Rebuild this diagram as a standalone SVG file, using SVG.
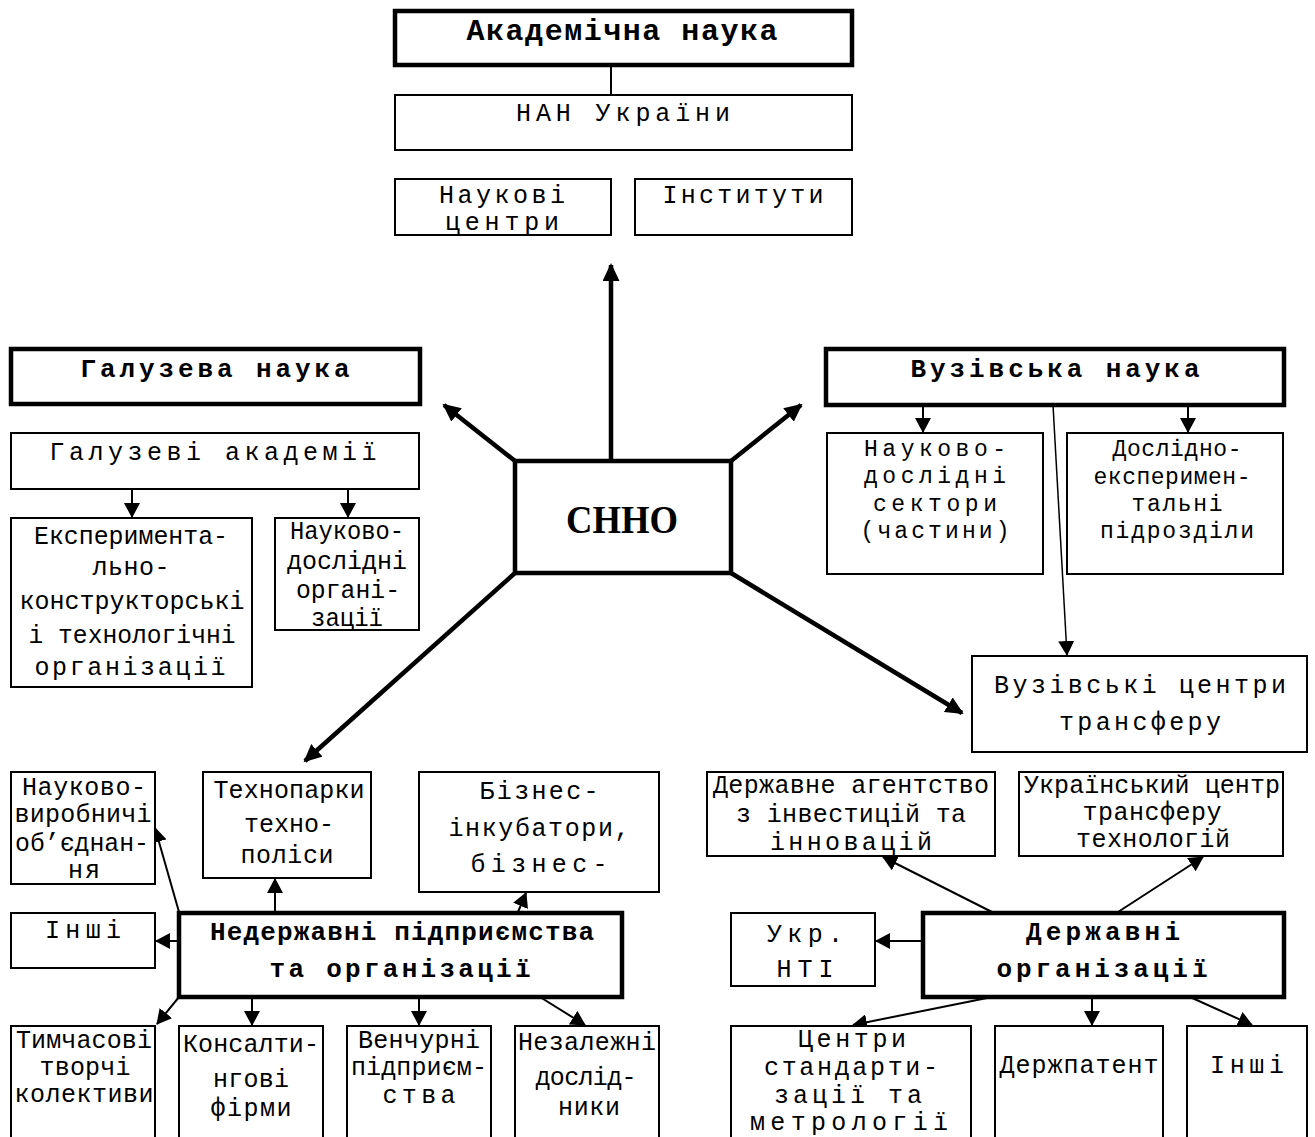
<svg xmlns="http://www.w3.org/2000/svg" width="1315" height="1137" viewBox="0 0 1315 1137">
<style>
rect{fill:#fff;stroke:#000;stroke-width:2}
rect.k{stroke-width:4.5}
text{font-family:"Liberation Mono","DejaVu Sans Mono",monospace;font-size:25px;text-anchor:middle;fill:#000}
text.m{font-size:23px}
text.b{font-weight:bold;font-size:26px}
text.big{font-size:30px}
text.s{font-family:"Liberation Serif","Times New Roman",serif;font-weight:bold;font-size:39px}
line{stroke:#000;stroke-width:2;fill:none}
line.k{stroke-width:4.5}
line.h{stroke-width:1.5}
</style>
<defs>
<marker id="a" markerUnits="userSpaceOnUse" markerWidth="15" markerHeight="16" refX="14" refY="8" orient="auto"><path d="M0,0 L15,8 L0,16 z" fill="#000"/></marker>
<marker id="ak" markerUnits="userSpaceOnUse" markerWidth="18" markerHeight="17" refX="16" refY="8.5" orient="auto"><path d="M0,0 L18,8.5 L0,17 z" fill="#000"/></marker>
</defs>
<rect x="0" y="0" width="1315" height="1137" style="stroke:none"/>

<g id="connectors">
<line x1="611" y1="66" x2="611" y2="94"/>
<line class="k" x1="611" y1="461" x2="611" y2="265" marker-end="url(#ak)"/>
<line class="k" x1="515" y1="461" x2="444" y2="405" marker-end="url(#ak)"/>
<line class="k" x1="731" y1="461" x2="801" y2="405" marker-end="url(#ak)"/>
<line class="k" x1="515" y1="573" x2="305" y2="761" marker-end="url(#ak)"/>
<line class="k" x1="731" y1="573" x2="962" y2="713" marker-end="url(#ak)"/>
<line x1="132" y1="489" x2="132" y2="517" marker-end="url(#a)"/>
<line x1="348" y1="489" x2="348" y2="517" marker-end="url(#a)"/>
<line x1="923" y1="405" x2="923" y2="432" marker-end="url(#a)"/>
<line x1="1188" y1="405" x2="1188" y2="432" marker-end="url(#a)"/>
<line class="h" x1="1053" y1="405" x2="1067" y2="655" marker-end="url(#a)"/>
<line x1="179" y1="912" x2="155" y2="828" marker-end="url(#a)"/>
<line x1="275" y1="912" x2="275" y2="879" marker-end="url(#a)"/>
<line x1="518" y1="912" x2="526" y2="893" marker-end="url(#a)"/>
<line x1="179" y1="941" x2="156" y2="941" marker-end="url(#a)"/>
<line x1="179" y1="997" x2="157" y2="1024" marker-end="url(#a)"/>
<line x1="252" y1="997" x2="252" y2="1025" marker-end="url(#a)"/>
<line x1="419" y1="997" x2="419" y2="1025" marker-end="url(#a)"/>
<line x1="540" y1="997" x2="585" y2="1025" marker-end="url(#a)"/>
<line x1="992" y1="912" x2="883" y2="857" marker-end="url(#a)"/>
<line x1="1118" y1="912" x2="1203" y2="857" marker-end="url(#a)"/>
<line x1="922" y1="941" x2="876" y2="941" marker-end="url(#a)"/>
<line x1="992" y1="997" x2="853" y2="1025" marker-end="url(#a)"/>
<line x1="1092" y1="997" x2="1092" y2="1025" marker-end="url(#a)"/>
<line x1="1190" y1="997" x2="1252" y2="1025" marker-end="url(#a)"/>
</g>

<g id="academ">
<rect class="k" x="395" y="11" width="457" height="54"/>
<text class="b big" x="622" y="40" textLength="311" lengthAdjust="spacing">Академічна наука</text>
</g>
<g id="nan">
<rect x="395" y="95" width="457" height="55"/>
<text x="623" y="121" textLength="214" lengthAdjust="spacing">НАН України</text>
</g>
<g id="centers">
<rect x="395" y="179" width="216" height="56"/>
<text x="502" y="203" textLength="126" lengthAdjust="spacing">Наукові</text>
<text x="502" y="230" textLength="114" lengthAdjust="spacing">центри</text>
</g>
<g id="institutes">
<rect x="635" y="179" width="217" height="56"/>
<text x="743" y="203" textLength="161" lengthAdjust="spacing">Інститути</text>
</g>

<g id="snno">
<rect class="k" x="515" y="461" width="216" height="112"/>
<text class="s" x="622" y="533" textLength="112" lengthAdjust="spacingAndGlyphs">СННО</text>
</g>

<g id="galuz">
<rect class="k" x="11" y="349" width="409" height="55"/>
<text class="b" x="215" y="377" textLength="269" lengthAdjust="spacing">Галузева наука</text>
</g>
<g id="galuz-acad">
<rect x="11" y="433" width="408" height="56"/>
<text x="213" y="460" textLength="327" lengthAdjust="spacing">Галузеві академії</text>
</g>
<g id="exp-org">
<rect x="11" y="518" width="241" height="169"/>
<text x="131" y="544" textLength="194" lengthAdjust="spacingAndGlyphs">Експеримента-</text>
<text x="131" y="575" textLength="77" lengthAdjust="spacing">льно-</text>
<text x="132" y="609" textLength="225" lengthAdjust="spacingAndGlyphs">конструкторські</text>
<text x="132" y="643" textLength="207" lengthAdjust="spacingAndGlyphs">і технологічні</text>
<text x="130" y="675" textLength="191" lengthAdjust="spacing">організації</text>
</g>
<g id="nd-org">
<rect x="275" y="518" width="144" height="112"/>
<text x="347" y="539" textLength="114" lengthAdjust="spacingAndGlyphs">Науково-</text>
<text x="347" y="569" textLength="120" lengthAdjust="spacingAndGlyphs">дослідні</text>
<text x="348" y="598" textLength="104" lengthAdjust="spacingAndGlyphs">органі-</text>
<text x="347" y="626" textLength="72" lengthAdjust="spacingAndGlyphs">зації</text>
</g>

<g id="vuz">
<rect class="k" x="826" y="349" width="458" height="56"/>
<text class="b" x="1055" y="377" textLength="289" lengthAdjust="spacing">Вузівська наука</text>
</g>
<g id="nd-sect">
<rect x="827" y="433" width="216" height="141"/>
<text class="m" x="935" y="456" textLength="142" lengthAdjust="spacing">Науково-</text>
<text class="m" x="935" y="483" textLength="142" lengthAdjust="spacing">дослідні</text>
<text class="m" x="935" y="511" textLength="124" lengthAdjust="spacing">сектори</text>
<text class="m" x="935" y="538" textLength="149" lengthAdjust="spacing">(частини)</text>
</g>
<g id="de-pidr">
<rect x="1067" y="433" width="216" height="141"/>
<text class="m" x="1177" y="456" textLength="129" lengthAdjust="spacing">Дослідно-</text>
<text class="m" x="1172" y="484" textLength="157" lengthAdjust="spacing">експеримен-</text>
<text class="m" x="1177" y="511" textLength="91" lengthAdjust="spacing">тальні</text>
<text class="m" x="1177" y="538" textLength="154" lengthAdjust="spacing">підрозділи</text>
</g>
<g id="vuz-transfer">
<rect x="972" y="656" width="335" height="96"/>
<text x="1140" y="693" textLength="292" lengthAdjust="spacing">Вузівські центри</text>
<text x="1140" y="730" textLength="162" lengthAdjust="spacing">трансферу</text>
</g>

<g id="npo">
<rect x="11" y="772" width="144" height="112"/>
<text x="84" y="795" textLength="124" lengthAdjust="spacing">Науково-</text>
<text x="83" y="822" textLength="137" lengthAdjust="spacing">виробничі</text>
<text x="82" y="851" textLength="134" lengthAdjust="spacingAndGlyphs">об’єднан-</text>
<text x="84" y="878" textLength="32" lengthAdjust="spacing">ня</text>
</g>
<g id="technoparks">
<rect x="203" y="772" width="168" height="106"/>
<text x="289" y="798" textLength="151" lengthAdjust="spacing">Технопарки</text>
<text x="289" y="832" textLength="90" lengthAdjust="spacing">техно-</text>
<text x="287" y="863" textLength="93" lengthAdjust="spacing">поліси</text>
</g>
<g id="business">
<rect x="419" y="772" width="240" height="120"/>
<text x="539" y="799" textLength="119" lengthAdjust="spacing">Бізнес-</text>
<text x="539" y="836" textLength="181" lengthAdjust="spacing">інкубатори,</text>
<text x="539" y="872" textLength="137" lengthAdjust="spacing">бізнес-</text>
</g>
<g id="other-left">
<rect x="11" y="913" width="144" height="55"/>
<text x="83" y="938" textLength="76" lengthAdjust="spacing">Інші</text>
</g>
<g id="nonstate">
<rect class="k" x="179" y="913" width="443" height="84"/>
<text class="b" x="402" y="940" textLength="384" lengthAdjust="spacing">Недержавні підприємства</text>
<text class="b" x="400" y="977" textLength="261" lengthAdjust="spacing">та організації</text>
</g>
<g id="temp">
<rect x="11" y="1026" width="144" height="120"/>
<text x="84" y="1048" textLength="136" lengthAdjust="spacing">Тимчасові</text>
<text x="85" y="1075" textLength="91" lengthAdjust="spacing">творчі</text>
<text x="84" y="1102" textLength="139" lengthAdjust="spacing">колективи</text>
</g>
<g id="consult">
<rect x="179" y="1026" width="144" height="120"/>
<text x="251" y="1052" textLength="136" lengthAdjust="spacing">Консалти-</text>
<text x="251" y="1087" textLength="76" lengthAdjust="spacing">нгові</text>
<text x="251" y="1116" textLength="81" lengthAdjust="spacing">фірми</text>
</g>
<g id="venture">
<rect x="347" y="1026" width="144" height="120"/>
<text x="419" y="1048" textLength="122" lengthAdjust="spacing">Венчурні</text>
<text x="419" y="1075" textLength="136" lengthAdjust="spacing">підприєм-</text>
<text x="419" y="1103" textLength="73" lengthAdjust="spacing">ства</text>
</g>
<g id="independent">
<rect x="515" y="1026" width="144" height="120"/>
<text x="587" y="1050" textLength="138" lengthAdjust="spacing">Незалежні</text>
<text x="586" y="1085" textLength="101" lengthAdjust="spacing">дослід-</text>
<text x="589" y="1115" textLength="62" lengthAdjust="spacing">ники</text>
</g>

<g id="agency">
<rect x="707" y="772" width="288" height="84"/>
<text x="851" y="793" textLength="276" lengthAdjust="spacing">Державне агентство</text>
<text x="851" y="822" textLength="230" lengthAdjust="spacing">з інвестицій та</text>
<text x="851" y="850" textLength="162" lengthAdjust="spacing">інновацій</text>
</g>
<g id="uktransfer">
<rect x="1019" y="772" width="264" height="84"/>
<text x="1152" y="793" textLength="256" lengthAdjust="spacing">Український центр</text>
<text x="1152" y="820" textLength="139" lengthAdjust="spacing">трансферу</text>
<text x="1153" y="847" textLength="154" lengthAdjust="spacing">технологій</text>
</g>
<g id="ukrnti">
<rect x="731" y="913" width="144" height="73"/>
<text x="805" y="942" textLength="76" lengthAdjust="spacing">Укр.</text>
<text x="805" y="977" textLength="57" lengthAdjust="spacing">НТІ</text>
</g>
<g id="state">
<rect class="k" x="923" y="913" width="361" height="84"/>
<text class="b" x="1103" y="940" textLength="154" lengthAdjust="spacing">Державні</text>
<text class="b" x="1102" y="977" textLength="211" lengthAdjust="spacing">організації</text>
</g>
<g id="standards">
<rect x="731" y="1026" width="240" height="120"/>
<text x="852" y="1047" textLength="108" lengthAdjust="spacing">Центри</text>
<text x="851" y="1075" textLength="174" lengthAdjust="spacing">стандарти-</text>
<text x="848" y="1103" textLength="148" lengthAdjust="spacing">зації та</text>
<text x="849" y="1130" textLength="198" lengthAdjust="spacing">метрології</text>
</g>
<g id="patent">
<rect x="995" y="1026" width="168" height="120"/>
<text x="1079" y="1073" textLength="159" lengthAdjust="spacing">Держпатент</text>
</g>
<g id="other-right">
<rect x="1187" y="1026" width="120" height="120"/>
<text x="1247" y="1073" textLength="74" lengthAdjust="spacing">Інші</text>
</g>
</svg>
